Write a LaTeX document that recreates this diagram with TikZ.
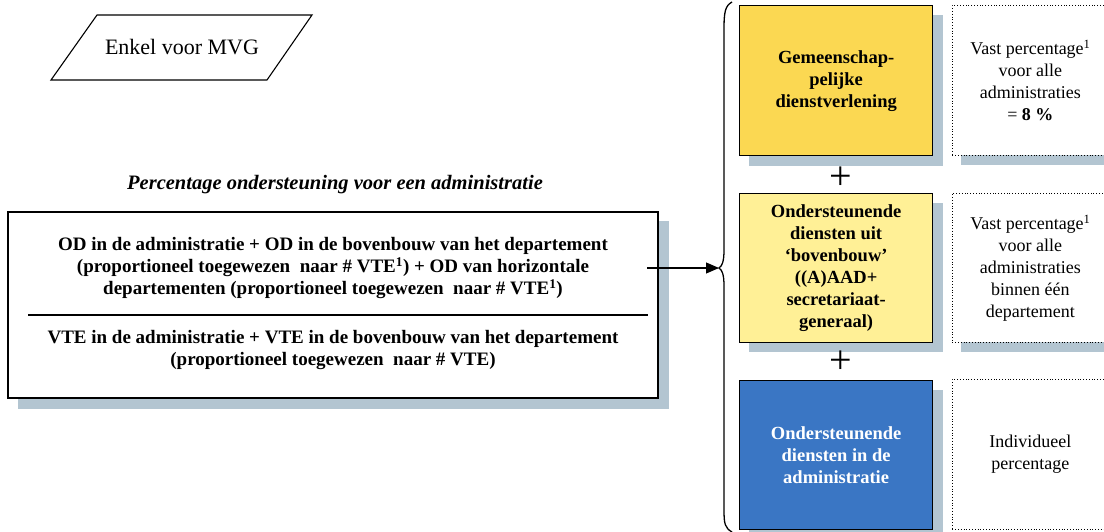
\documentclass[tikz,border=0pt]{standalone}
\usepackage{fontspec}
\setmainfont{Liberation Serif}
\usetikzlibrary{arrows.meta,shapes.geometric}
\definecolor{shadowblue}{RGB}{179,197,209}
\definecolor{gold}{RGB}{251,216,82}
\definecolor{paleyellow}{RGB}{255,240,150}
\definecolor{blueboxfill}{RGB}{58,118,196}
\tikzset{
  boxtext/.style={font=\fontsize{18.5}{22}\selectfont\bfseries,align=center},
  notetext/.style={font=\fontsize{18}{22}\selectfont,align=center},
  maintext/.style={font=\fontsize{19}{22}\selectfont\bfseries,align=center},
  plussign/.style={font=\fontsize{40}{40}\selectfont,inner sep=0pt},
  dotbox/.style={draw=black,line width=0.8pt,dotted,fill=white},
  compbox/.style={draw=black,line width=1.3pt,minimum width=193pt,inner sep=0pt,
    anchor=north west,boxtext},
}
\begin{document}
\begin{tikzpicture}[x=1pt,y=-1pt]
\useasboundingbox (0,0) rectangle (1104,532);
\fill[white] (0,0) rectangle (1104,532);

% parallelogram label
\draw[line width=1.1pt] (97,15) -- (312,15) -- (267,80) -- (51,80) -- cycle;
\node[font=\fontsize{22}{26}\selectfont] (mvg) at (182,47) {Enkel voor MVG};

% heading
\node[font=\fontsize{20.5}{24}\selectfont\bfseries\itshape] (title) at (335,185)
  {Percentage ondersteuning voor een administratie};

% fraction box with shadow
\fill[shadowblue] (18,221) rectangle (669,409);
\draw[line width=1.4pt,fill=white] (8,212) rectangle (658,398);
\coordinate (mainE) at (647,268);
\node[maintext] (num) at (333,268)
  {OD in de administratie + OD in de bovenbouw van het departement\\
   (proportioneel toegewezen\ \ naar \# VTE\textsuperscript{1}) + OD van horizontale\\
   departementen (proportioneel toegewezen\ \ naar \# VTE\textsuperscript{1})};
\draw[line width=2.6pt] (28,315) -- (648,315);
\node[maintext] (den) at (333,350)
  {VTE in de administratie + VTE in de bovenbouw van het departement\\
   (proportioneel toegewezen\ \ naar \# VTE)};

% brace
\draw[line width=1.3pt] (732,2) .. controls (725,6) and (724,12) .. (724,30)
  -- (724,250) .. controls (724,262) and (722,266) .. (719,268)
  .. controls (722,270) and (724,274) .. (724,286)
  -- (724,510) .. controls (724,524) and (725,528) .. (732,532);
\coordinate (cusp) at (719,268);
\draw[line width=1.1pt,-{Triangle[length=13pt,width=11pt]}] (mainE) -- (cusp);

% component boxes
\fill[shadowblue] (749,15) rectangle (943,166);
\node[compbox,fill=gold,minimum height=150pt] (b1) at (739,5)
  {Gemeenschap-\\pelijke\\dienstverlening};
\node[plussign] (p1) at (841,178) {+};

\fill[shadowblue] (749,203) rectangle (943,352);
\node[compbox,fill=paleyellow,minimum height=149pt] (b2) at (739,193)
  {Ondersteunende\\diensten uit\\`bovenbouw'\\((A)AAD+\\secretariaat-\\generaal)};
\node[plussign] (p2) at (841,362) {+};

\fill[shadowblue] (749,390) rectangle (943,532);
\node[compbox,fill=blueboxfill,minimum height=149pt,text=white] (b3) at (739,380)
  {Ondersteunende\\diensten in de\\administratie};

% explanatory notes
\fill[shadowblue] (961,155) rectangle (1110,165);
\node[dotbox,minimum width=156pt,minimum height=150pt,inner sep=0pt,anchor=north west,
  notetext] (n1) at (952,5)
  {Vast percentage\textsuperscript{1}\\voor alle\\administraties\\= \textbf{8 \%}};
\fill[shadowblue] (961,342) rectangle (1110,352);
\node[dotbox,minimum width=156pt,minimum height=149pt,inner sep=0pt,anchor=north west,
  notetext] (n2) at (952,193)
  {Vast percentage\textsuperscript{1}\\voor alle\\administraties\\binnen één\\departement};
\node[dotbox,minimum width=156pt,minimum height=150pt,inner sep=0pt,anchor=north west,
  notetext] (n3) at (952,379)
  {Individueel\\percentage};
\end{tikzpicture}
\end{document}
